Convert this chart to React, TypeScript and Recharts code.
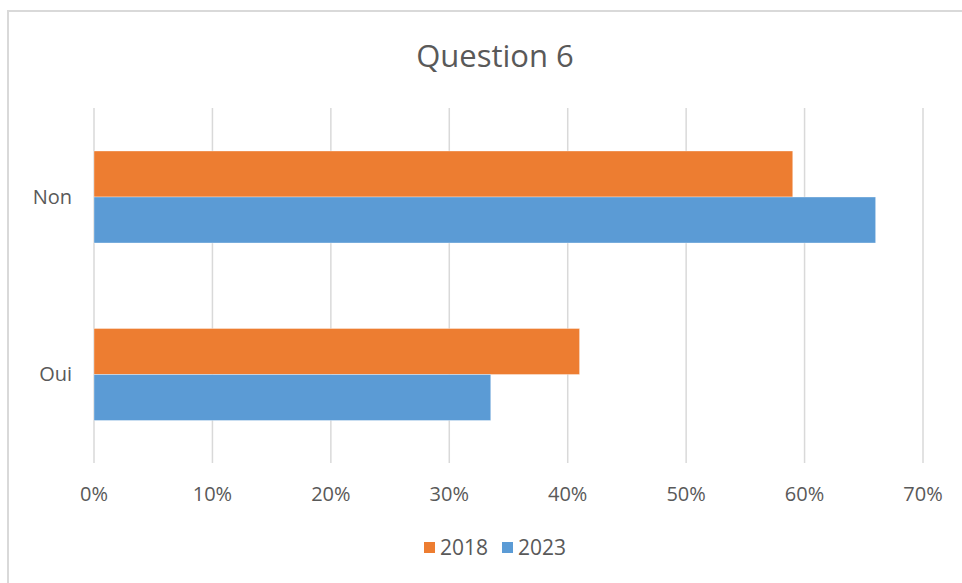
import React from "react";
import { BarChart, Bar, XAxis, YAxis, CartesianGrid, Legend } from "recharts";

const categories = ["Non", "Oui"];
const values2018 = [0.59, 0.41];
const values2023 = [0.66, 0.335];
const xTicks = [0, 0.1, 0.2, 0.3, 0.4, 0.5, 0.6, 0.7];
const seriesNames = ["2018", "2023"];
const seriesColors = ["#ED7D31", "#5B9BD5"];

const data = categories.map((c, i) => ({
  name: c,
  [seriesNames[0]]: values2018[i],
  [seriesNames[1]]: values2023[i],
}));

const FONT = "'Open Sans', sans-serif";
const TEXT = "#595959";

const LegendContent = () => (
  <div style={{ display: "flex", justifyContent: "center", alignItems: "center", fontFamily: FONT, fontSize: 21, color: TEXT }}>
    {seriesNames.map((s, i) => (
      <div key={s} style={{ display: "flex", alignItems: "center", marginRight: i === 0 ? 14 : 0 }}>
        <div style={{ width: 11, height: 11, background: seriesColors[i], marginRight: 5 }} />
        <span>{s}</span>
      </div>
    ))}
  </div>
);

export default function App() {
  return (
    <div style={{ position: "fixed", left: 0, top: 0, width: 962, height: 583, background: "#fff", overflow: "hidden" }}>
      <div style={{ position: "absolute", left: 7, top: 10, width: 1000, height: 700, border: "2px solid #d9d9d9", boxSizing: "border-box" }} />
      <div style={{ position: "absolute", left: 0, top: 34, width: 990, textAlign: "center", fontFamily: FONT, fontSize: 31, color: TEXT }}>
        Question 6
      </div>
      <div style={{ position: "absolute", left: 0, top: 0 }}>
        <BarChart
          width={962}
          height={583}
          data={data}
          layout="vertical"
          margin={{ top: 108, right: 39, bottom: 70, left: 0 }}
          barGap={0}
          barSize={46}
        >
          <CartesianGrid horizontal={false} stroke="#d9d9d9" strokeWidth={1.5} />
          <XAxis
            type="number"
            domain={[0, 0.7]}
            ticks={xTicks}
            tickFormatter={(v: number) => `${Math.round(v * 100)}%`}
            axisLine={false}
            tickLine={false}
            tickMargin={18}
            height={50}
            tick={{ fill: TEXT, fontSize: 20, fontFamily: FONT }}
          />
          <YAxis
            type="category"
            dataKey="name"
            width={94}
            axisLine={false}
            tickLine={false}
            tickMargin={16}
            tick={{ fill: TEXT, fontSize: 20, fontFamily: FONT }}
          />
          <Legend
            layout="horizontal"
            verticalAlign="middle"
            align="center"
            content={<LegendContent />}
            wrapperStyle={{ position: "absolute", top: 533, left: 0, width: 990 }}
          />
          {seriesNames.map((s, i) => (
            <Bar key={s} dataKey={s} fill={seriesColors[i]} stroke="rgba(255,255,255,0.35)" strokeWidth={1} isAnimationActive={false} />
          ))}
        </BarChart>
      </div>
    </div>
  );
}
